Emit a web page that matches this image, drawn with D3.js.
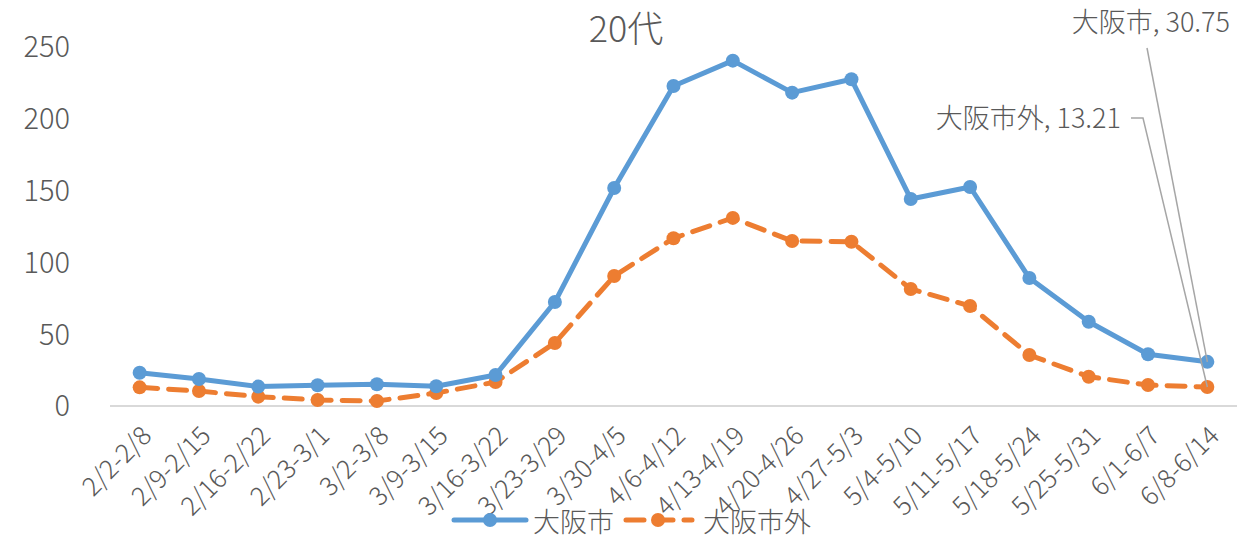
<!DOCTYPE html>
<html><head><meta charset="utf-8">
<script src="https://cdn.jsdelivr.net/npm/d3@7"></script>
<style>body{margin:0;background:#fff}svg{display:block}</style>
</head><body>
<script>
const categories = ["2/2-2/8","2/9-2/15","2/16-2/22","2/23-3/1","3/2-3/8","3/9-3/15","3/16-3/22","3/23-3/29","3/30-4/5","4/6-4/12","4/13-4/19","4/20-4/26","4/27-5/3","5/4-5/10","5/11-5/17","5/18-5/24","5/25-5/31","6/1-6/7","6/8-6/14"];
const osakaCity = [23.2,18.8,13.5,14.4,15.1,13.8,21.6,72.4,151.8,222.8,240.5,218.2,227.5,144.2,152.5,89.1,58.7,36.0,30.75];
const outsideCity = [13.0,10.4,6.5,4.2,3.5,9.0,16.7,43.9,90.5,116.8,131.0,114.9,114.4,81.5,69.6,35.5,20.4,14.6,13.21];
const seriesNames = ["大阪市","大阪市外"];
const yTicks = [0,50,100,150,200,250];
const title = "20代";

const W=1242,H=541;
const font = "'Noto Sans CJK JP','Noto Sans',sans-serif";
const txt = "#595959";
const fw = 300;
const svg = d3.select("body").append("svg").attr("width",W).attr("height",H);

const x = d3.scaleBand().domain(categories).range([110,1237]);
const y = d3.scaleLinear().domain([0,250]).range([406,47]);
const cx = c => x(c)+x.bandwidth()/2;

// y labels
svg.append("g").selectAll("text").data(yTicks).join("text")
  .attr("x",70).attr("y",d=>y(d)).attr("dy","0.36em").attr("text-anchor","end")
  .attr("font-family",font).attr("font-weight",fw).attr("font-size",29).attr("fill",txt).text(d=>d);

// axis line
svg.append("line").attr("x1",110).attr("x2",1237).attr("y1",y(0)).attr("y2",y(0))
  .attr("stroke","#d9d9d9").attr("stroke-width",2);

// x labels
svg.append("g").selectAll("text").data(categories).join("text")
  .attr("transform",d=>`translate(${cx(d)+7},${y(0)+25}) rotate(-45)`)
  .attr("text-anchor","end").attr("dy","0.35em")
  .attr("font-family",font).attr("font-weight",fw).attr("font-size",26).attr("fill",txt).text(d=>d);

// title
svg.append("text").attr("x",626).attr("y",29).attr("dy","0.36em").attr("text-anchor","middle")
  .attr("font-family",font).attr("font-weight",fw).attr("font-size",36).attr("fill",txt).text(title);

const line = d3.line().x((d,i)=>cx(categories[i])).y(d=>y(d));
// orange
svg.append("path").datum(outsideCity).attr("d",line).attr("fill","none")
  .attr("stroke","#ed7d31").attr("stroke-width",5).attr("stroke-dasharray","18,11").attr("stroke-linecap","round");
svg.append("g").selectAll("circle").data(outsideCity).join("circle")
  .attr("cx",(d,i)=>cx(categories[i])).attr("cy",d=>y(d)).attr("r",7).attr("fill","#ed7d31");
// blue
svg.append("path").datum(osakaCity).attr("d",line).attr("fill","none")
  .attr("stroke","#5b9bd5").attr("stroke-width",5).attr("stroke-linejoin","round");
svg.append("g").selectAll("circle").data(osakaCity).join("circle")
  .attr("cx",(d,i)=>cx(categories[i])).attr("cy",d=>y(d)).attr("r",7).attr("fill","#5b9bd5");

// data labels with leaders
const last = categories.length-1;
const lx = cx(categories[last]);
svg.append("path").attr("d",`M1147,48 L${lx},${y(osakaCity[last])}`).attr("stroke","#a6a6a6").attr("stroke-width",1.5).attr("fill","none");
svg.append("path").attr("d",`M1131,118 L1143,118 L${lx},${y(outsideCity[last])}`).attr("stroke","#a6a6a6").attr("stroke-width",1.5).attr("fill","none");
svg.append("text").attr("x",1230).attr("y",22).attr("dy","0.36em").attr("text-anchor","end")
  .attr("font-family",font).attr("font-weight",fw).attr("font-size",27).attr("fill",txt).text(`${seriesNames[0]}, ${osakaCity[last]}`);
svg.append("text").attr("x",1121).attr("y",118).attr("dy","0.36em").attr("text-anchor","end")
  .attr("font-family",font).attr("font-weight",fw).attr("font-size",27).attr("fill",txt).text(`${seriesNames[1]}, ${outsideCity[last]}`);

// legend
const lg = svg.append("g");
lg.append("line").attr("x1",454).attr("x2",526).attr("y1",520).attr("y2",520).attr("stroke","#5b9bd5").attr("stroke-width",5).attr("stroke-linecap","round");
lg.append("circle").attr("cx",490).attr("cy",520).attr("r",7).attr("fill","#5b9bd5");
lg.append("text").attr("x",533).attr("y",522).attr("dy","0.36em").attr("font-family",font).attr("font-weight",fw).attr("font-size",27).attr("fill",txt).text(seriesNames[0]);
lg.append("line").attr("x1",626).attr("x2",692).attr("y1",520).attr("y2",520).attr("stroke","#ed7d31").attr("stroke-width",5).attr("stroke-dasharray","18,11").attr("stroke-linecap","round");
lg.append("circle").attr("cx",658).attr("cy",520).attr("r",7).attr("fill","#ed7d31");
lg.append("text").attr("x",703).attr("y",522).attr("dy","0.36em").attr("font-family",font).attr("font-weight",fw).attr("font-size",27).attr("fill",txt).text(seriesNames[1]);
</script>
</body></html>
